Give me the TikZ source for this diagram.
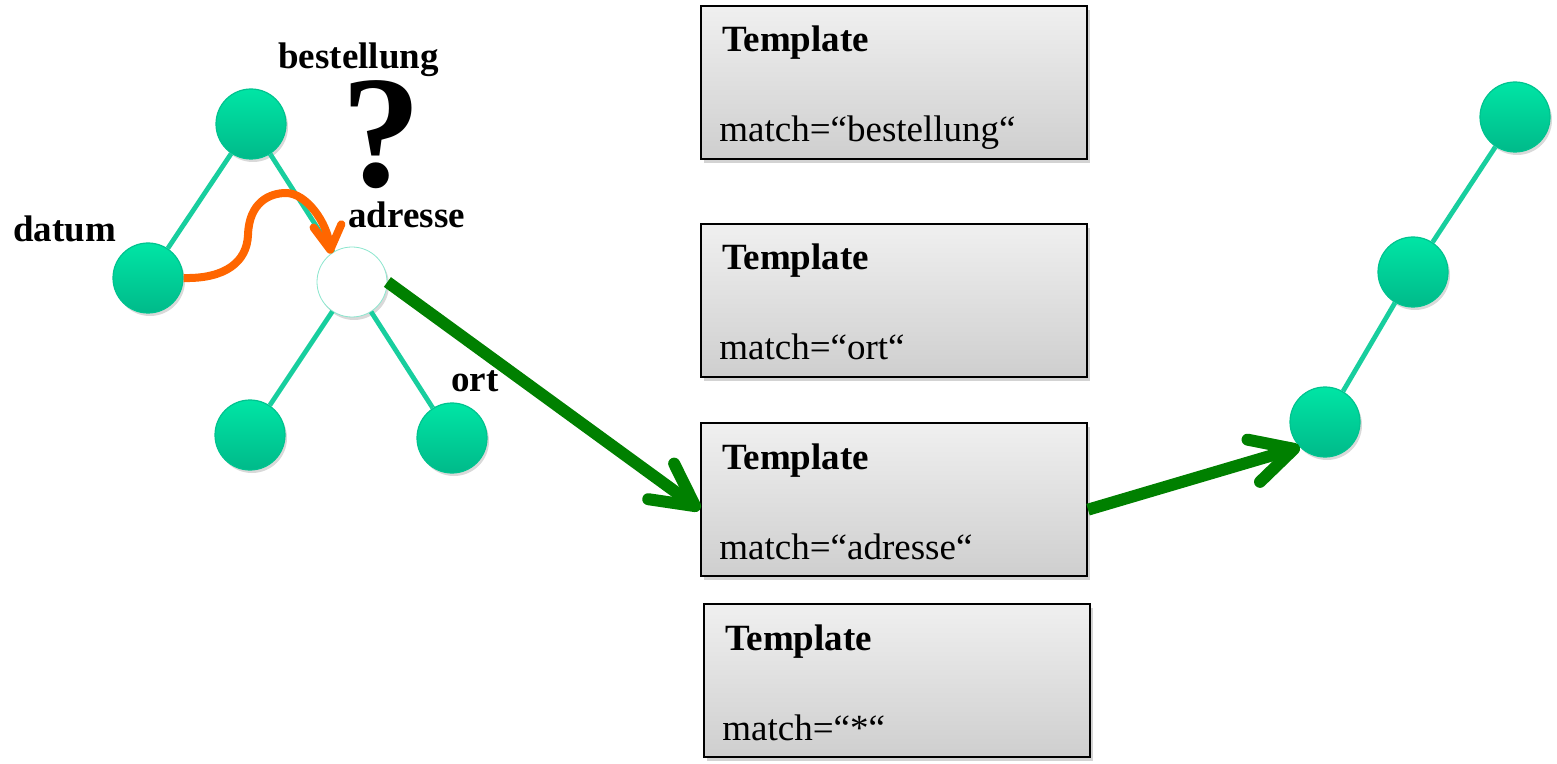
\documentclass[tikz,border=0pt]{standalone}
\usepackage{fontspec}
\setmainfont{Liberation Serif}
\usetikzlibrary{arrows.meta,shadows,calc}

\definecolor{leaftop}{RGB}{0,229,165}
\definecolor{leafbot}{RGB}{0,186,138}
\definecolor{edgecol}{RGB}{24,206,158}
\definecolor{flowgreen}{RGB}{0,128,0}
\definecolor{hoporange}{RGB}{255,102,0}

\tikzset{
    knot/.style={circle, minimum size=35pt, inner sep=0pt,
        drop shadow={shadow xshift=1pt, shadow yshift=-1.5pt, opacity=0.3}},
    leaf/.style={knot, draw=leafbot!80!leaftop, line width=0.6pt,
        top color=leaftop, bottom color=leafbot},
    current/.style={knot, draw=edgecol!50, line width=0.4pt, fill=white},
    edge/.style={draw=edgecol, line width=2.4pt},
    lbl/.style={inner sep=0pt, font=\bfseries\fontsize{18.5}{22}\selectfont},
    txt/.style={inner sep=0pt, font=\fontsize{18.5}{22}\selectfont},
    tplbox/.style={draw=black, line width=1pt, minimum width=193pt,
        minimum height=76.5pt, inner sep=0pt,
        top color=gray!12, bottom color=gray!38,
        drop shadow={shadow xshift=1.5pt, shadow yshift=-2pt, opacity=0.35}},
    flow/.style={draw=flowgreen, line width=6pt,
        -{Straight Barb[length=21pt, width=22pt, round]}},
    hop/.style={draw=hoporange, line width=4pt,
        -{Straight Barb[length=12pt, width=14pt, round]}}
}

\begin{document}
\begin{tikzpicture}[x=0.5pt, y=-0.5pt]
    \useasboundingbox (0,0) rectangle (1557,764);

    % Source tree
    \node[leaf] (bestellung) at (251,124) {};
    \node[leaf] (datum) at (148,278) {};
    \node[current] (adresse) at (352,282) {};
    \node[leaf] (kind) at (250,435) {};
    \node[leaf] (ort) at (452,438) {};

    \draw[edge] (bestellung) -- (datum);
    \draw[edge] (bestellung) -- (adresse);
    \draw[edge] (adresse) -- (kind);
    \draw[edge] (adresse) -- (ort);

    % Labels of the source tree
    \node[lbl, anchor=base west] (lbest) at (278,69) {bestellung};
    \node[anchor=base, inner sep=0pt, font=\bfseries\fontsize{80}{88}\selectfont] (frage) at (381,187) {?};
    \node[lbl, anchor=base west] (ldatum) at (13,242) {datum};
    \node[lbl, anchor=base west] (ladresse) at (348,228) {adresse};
    \node[lbl, anchor=base west] (lort) at (451,392) {ort};

    % Step from datum to adresse
    \draw[hop] (datum.east) .. controls (225,279) and (247,262) .. (248,235)
        .. controls (249,202) and (270,193) .. (286,193)
        .. controls (306,193) and (327,222) .. (adresse.127);

    % Templates
    \foreach \n/\x/\y/\m in {1/700/5/bestellung, 2/700/223/ort, 3/700/422/adresse, 4/703/603/*} {
        \node[tplbox, anchor=north west] (tpl\n) at (\x,\y) {};
        \node[lbl, anchor=base west] (head\n) at ($(tpl\n.north west)+(22,47)$) {Template};
        \node[txt, anchor=base west] (match\n) at ($(tpl\n.south west)+(19,-18)$) {match=“\m“};
    }

    % Result tree
    \node[leaf] (rtop) at (1515,117) {};
    \node[leaf] (rmid) at (1413,272) {};
    \node[leaf] (rlow) at (1325,422) {};

    \draw[edge] (rtop) -- (rmid);
    \draw[edge] (rmid) -- (rlow);

    % Matching and output
    \draw[flow] (adresse.east) -- (tpl3.183);
    \draw[flow] (tpl3.-3) -- (rlow.225);
\end{tikzpicture}
\end{document}
